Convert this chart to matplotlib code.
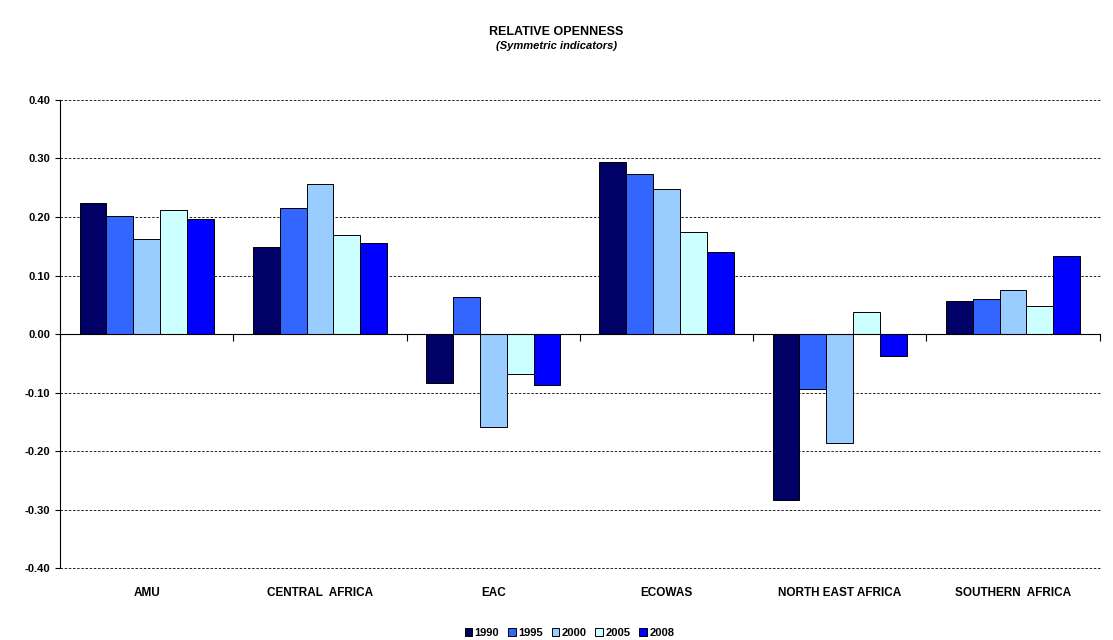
import numpy as np
import matplotlib.pyplot as plt
import matplotlib.transforms as mtransforms

regions = ['AMU', 'CENTRAL  AFRICA', 'EAC', 'ECOWAS', 'NORTH EAST AFRICA', 'SOUTHERN  AFRICA']
years = ['1990', '1995', '2000', '2005', '2008']
v1990 = [0.223, 0.148, -0.083, 0.294, -0.283, 0.056]
v1995 = [0.202, 0.216, 0.064, 0.274, -0.093, 0.060]
v2000 = [0.162, 0.256, -0.158, 0.248, -0.186, 0.076]
v2005 = [0.212, 0.170, -0.068, 0.174, 0.038, 0.048]
v2008 = [0.196, 0.155, -0.087, 0.140, -0.038, 0.134]
series = [v1990, v1995, v2000, v2005, v2008]
colors = ['#000066', '#3366FF', '#99CCFF', '#CCFFFF', '#0000FF']

plt.rcParams['font.family'] = ['Liberation Sans', 'DejaVu Sans']
fig = plt.figure(figsize=(11.13, 6.4), dpi=100)
ax = fig.add_axes([0.054, 0.112, 0.934, 0.732])

x = np.arange(len(regions))
w = 0.155
for i, s in enumerate(series):
    ax.bar(x + (i - 2) * w, s, w, color=colors[i], edgecolor='black', linewidth=0.7,
           label=years[i], zorder=3)

ax.set_xlim(-0.5, 5.5)
ax.set_ylim(-0.4, 0.4)
yt = np.round(np.arange(-0.4, 0.41, 0.1), 2)
ax.set_yticks(yt)
ax.set_yticklabels(['%.2f' % (t + 0.0) for t in yt], fontsize=8, fontweight='bold')
ax.yaxis.grid(True, linestyle=(0, (3, 2)), color='black', linewidth=0.6)
for gl in ax.get_ygridlines():
    gl.set_clip_on(False)
for sp in ['top', 'right']:
    ax.spines[sp].set_visible(False)
ax.spines['left'].set_linewidth(0.8)
ax.spines['bottom'].set_position(('data', 0))
ax.spines['bottom'].set_linewidth(0.8)
ax.spines['bottom'].set_zorder(4)
ax.set_xticks(np.arange(-0.5, 5.6, 1.0))
ax.set_xticklabels([])
ax.tick_params(axis='x', length=5, direction='out')

trans = mtransforms.blended_transform_factory(ax.transData, ax.transAxes)
for xi, r in zip(x, regions):
    ax.text(xi, -0.052, r, transform=trans, ha='center', va='center',
            fontsize=8.5, fontweight='bold')

fig.text(0.5, 0.945, 'RELATIVE OPENNESS', ha='center', fontsize=9, fontweight='bold')
fig.text(0.5, 0.923, '(Symmetric indicators)', ha='center', fontsize=8, fontweight='bold', style='italic')
ax.legend(loc='upper center', bbox_to_anchor=(0.49, -0.105), ncol=5, frameon=False,
          prop={'weight': 'bold', 'size': 8}, handlelength=0.7, handleheight=0.7,
          handletextpad=0.2, columnspacing=0.8)
fig.savefig('out.png', dpi=100)
